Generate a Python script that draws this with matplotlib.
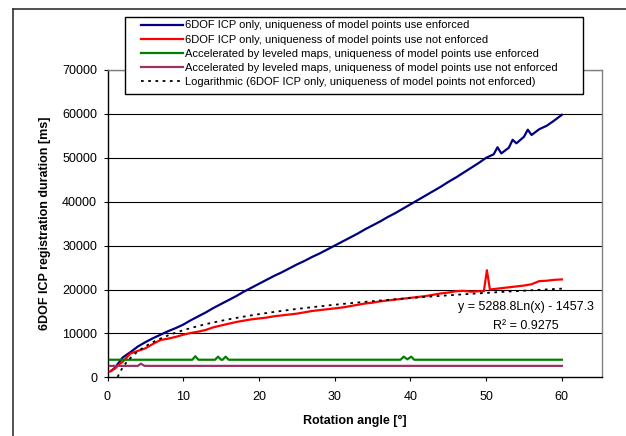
#!/usr/bin/env python3
import matplotlib
matplotlib.use("Agg")
import matplotlib.pyplot as plt
from matplotlib.lines import Line2D
from matplotlib.patches import Rectangle
import numpy as np

plt.rcParams["font.family"] = ["Liberation Sans", "DejaVu Sans"]

# ---------------------------------------------------------
# DATA
# ---------------------------------------------------------
blue_x = [0.5, 1, 2, 3, 4, 5, 6, 7, 8, 9, 10, 11, 12, 13, 14, 15, 16, 17, 18, 19,
          20, 21, 22, 23, 24, 25, 26, 27, 28, 29, 30, 31, 32, 33, 34, 35, 36, 37,
          38, 39, 40, 41, 42, 43, 44, 45, 46, 47, 48, 49, 50, 51, 51.5, 52, 53,
          53.5, 54, 55, 55.5, 56, 57, 58, 59, 60]
blue_y = [1500, 2200, 4500, 5700, 7000, 8000, 8900, 9700, 10500, 11200, 12000,
          13000, 13900, 14800, 15800, 16700, 17600, 18500, 19500, 20400, 21300,
          22200, 23100, 23900, 24800, 25700, 26500, 27400, 28200, 29100, 30000,
          30900, 31800, 32700, 33700, 34600, 35500, 36500, 37400, 38400, 39400,
          40400, 41400, 42400, 43400, 44500, 45500, 46600, 47700, 48800, 50000,
          50800, 52400, 51000, 52300, 54100, 53300, 54800, 56400, 55200, 56500,
          57300, 58500, 59800]

red_x = [0.3, 1, 1.7, 2, 3, 4, 5, 6, 7, 8, 9, 10, 11, 12, 13, 14, 15, 16, 17, 18,
         19, 20, 21, 22, 23, 24, 25, 26, 27, 28, 29, 30, 31, 32, 33, 34, 35, 36,
         37, 38, 39, 40, 41, 42, 43, 44, 45, 46, 47, 48, 49, 49.7, 50.1, 50.5,
         51, 52, 53, 54, 55, 56, 57, 58, 59, 60]
red_y = [1300, 2000, 3200, 3500, 5400, 6000, 6600, 7600, 8500, 8800, 9200, 9700,
         10100, 10400, 10800, 11400, 11800, 12200, 12600, 12900, 13200, 13400,
         13600, 13900, 14100, 14300, 14500, 14800, 15100, 15300, 15500, 15700,
         15900, 16200, 16500, 16800, 17000, 17300, 17500, 17700, 17900, 18100,
         18300, 18500, 18800, 19100, 19300, 19600, 19700, 19500, 19600, 19600,
         24400, 20000, 20100, 20300, 20500, 20700, 20900, 21200, 21900, 22000,
         22200, 22300]

green_x = [0.3, 11.2, 11.6, 12.0, 14.2, 14.6, 15.0, 15.2, 15.6, 16.0, 38.7, 39.1,
           39.6, 40.1, 40.5, 60]
green_y = [4000, 4000, 4800, 4000, 4000, 4700, 4000, 4000, 4700, 4000, 4000, 4700,
           4100, 4700, 4000, 4000]

purple_x = [0.3, 4.0, 4.4, 4.9, 60]
purple_y = [2600, 2600, 3100, 2600, 2600]

# logarithmic trendline shown in the chart
trend_a = 5288.8
trend_b = -1457.3
trend_r2 = 0.9275

labels = [
    "6DOF ICP only, uniqueness of model points use enforced",
    "6DOF ICP only, uniqueness of model points use not enforced",
    "Accelerated by leveled maps, uniqueness of model points use enforced",
    "Accelerated by leveled maps, uniqueness of model points use not enforced",
    "Logarithmic (6DOF ICP only, uniqueness of model points not enforced)",
]

# ---------------------------------------------------------
# PLOT
# ---------------------------------------------------------
W, H = 626, 436
fig = plt.figure(figsize=(W / 100, H / 100), dpi=100)
ax = fig.add_axes([107.5 / W, 1 - 377.3 / H, (602 - 107.5) / W, (377.3 - 70) / H])

for v in range(10000, 70001, 10000):
    ax.axhline(v, color="black", linewidth=0.8, zorder=1)

h1, = ax.plot(blue_x, blue_y, color="#000080", linewidth=1.6, zorder=3)
h2, = ax.plot(red_x, red_y, color="#FF0000", linewidth=1.6, zorder=3)
h3, = ax.plot(green_x, green_y, color="#008000", linewidth=1.6, zorder=3)
h4, = ax.plot(purple_x, purple_y, color="#993366", linewidth=1.6, zorder=3)

tx = np.linspace(1, 60, 200)
ty = trend_a * np.log(tx) + trend_b
h5, = ax.plot(tx, ty, color="black", linewidth=1.3, linestyle=(0, (1.5, 2.5)), zorder=4)

ax.set_xlim(0, 65.3)
ax.set_ylim(0, 70000)
ax.set_xticks(range(0, 61, 10))
ax.set_yticks(range(0, 70001, 10000))
ax.tick_params(axis="both", labelsize=9, length=3, color="black", direction="out")
ax.tick_params(axis="y", pad=4.5)
ax.tick_params(axis="x", pad=7)

ax.spines["left"].set_color("black")
ax.spines["bottom"].set_color("black")
ax.spines["top"].set_color("#808080")
ax.spines["right"].set_color("#808080")
for s in ax.spines.values():
    s.set_linewidth(1.0)

ax.set_xlabel("Rotation angle [°]", fontsize=9, fontweight="bold")
ax.set_ylabel("6DOF ICP registration duration [ms]", fontsize=9, fontweight="bold")
ax.xaxis.label.set_va("center")
ax.yaxis.label.set_va("center")
ax.xaxis.set_label_coords(0.5, (377.3 - 421) / (377.3 - 70))
ax.yaxis.set_label_coords((45 - 107.5) / (602 - 107.5), 0.5)

# trendline equation
ax.text(55.2, 15900, "y = 5288.8Ln(x) - 1457.3", fontsize=9, ha="center", va="center")
ax.text(55.2, 11700, f"R² = {trend_r2}", fontsize=9, ha="center", va="center")

# legend box
fig.patches.append(Rectangle((125 / W, 1 - 94 / H), (582.7 - 125) / W, (94 - 17) / H,
                             transform=fig.transFigure, facecolor="white",
                             edgecolor="black", linewidth=1.0, zorder=5))
leg = fig.legend([h1, h2, h3, h4, h5], labels, loc="upper left",
                 bbox_to_anchor=(141 / W, 1 - 20.5 / H), frameon=False, fontsize=8,
                 handlelength=3.8, handletextpad=0.2, labelspacing=0.37,
                 borderpad=0, borderaxespad=0)
leg.set_zorder(6)

# outer chart frame
fig.add_artist(Line2D([13 / W, 1], [1 - 9 / H, 1 - 9 / H], color="#333333",
                      linewidth=1.2, transform=fig.transFigure))
fig.add_artist(Line2D([13 / W, 13 / W], [0, 1 - 9 / H], color="#333333",
                      linewidth=1.2, transform=fig.transFigure))

fig.savefig("out.png", dpi=100)
plt.close(fig)
